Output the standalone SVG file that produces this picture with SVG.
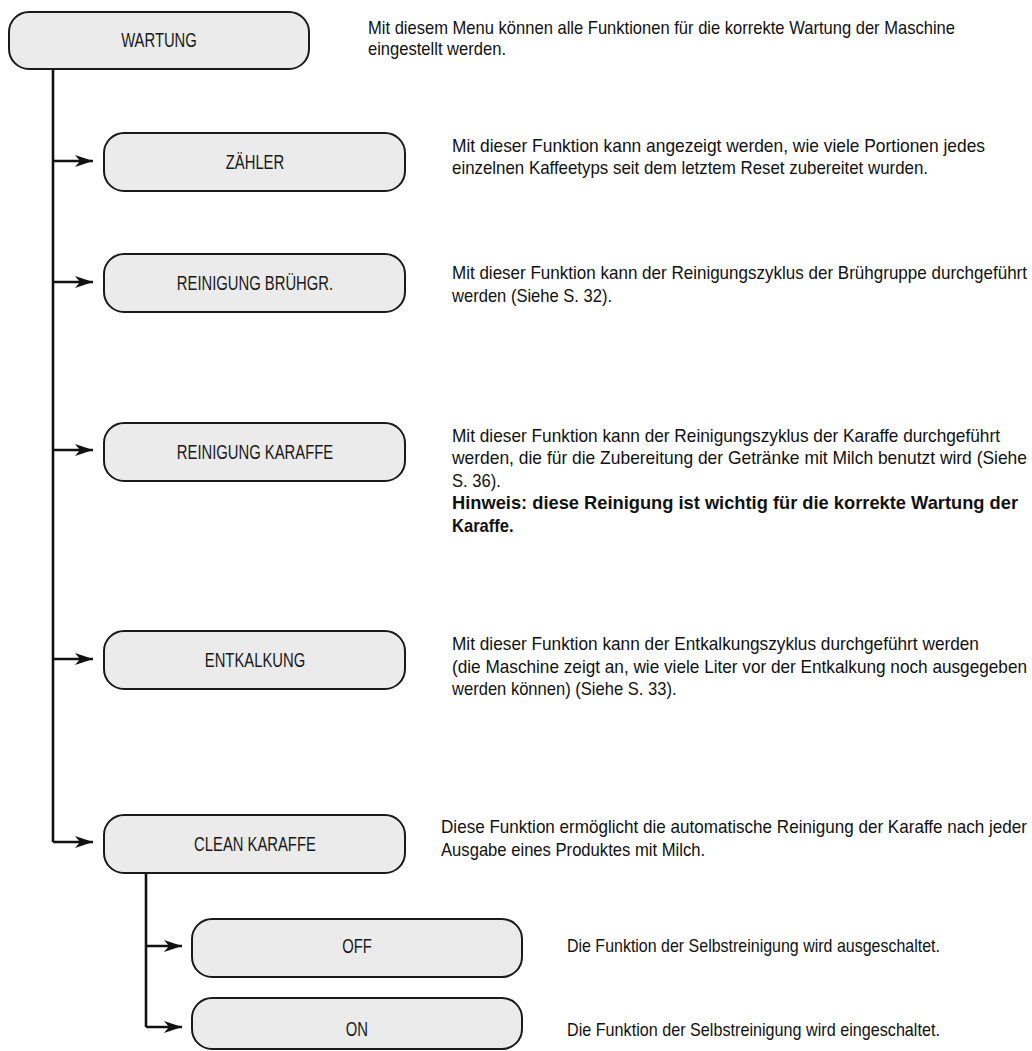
<svg xmlns="http://www.w3.org/2000/svg" width="1032" height="1051" viewBox="0 0 1032 1051">
<style>
.box{fill:#ebebeb;stroke:#1a1a1a;stroke-width:2}
.lbl{font-family:"Liberation Sans",Arial,sans-serif;font-size:19.5px;fill:#1a1a1a;text-anchor:middle}
.txt{font-family:"Liberation Sans",Arial,sans-serif;font-size:19px;fill:#111}
.b{font-weight:bold}
.ln{fill:none;stroke:#111;stroke-width:2.6}
</style>
<defs>
<marker id="ah" viewBox="0 0 18 12" refX="18" refY="6" markerWidth="18" markerHeight="12" markerUnits="userSpaceOnUse" orient="auto">
<path d="M0,0 L18,6 L0,12 L5,6 Z" fill="#111"/>
</marker>
</defs>
<rect width="1032" height="1051" fill="#fff"/>
<g id="connectors">
<path class="ln" d="M53,69 V842"/>
<path class="ln" d="M53,161 H93" marker-end="url(#ah)"/>
<path class="ln" d="M53,282 H93" marker-end="url(#ah)"/>
<path class="ln" d="M53,450 H93" marker-end="url(#ah)"/>
<path class="ln" d="M53,659 H93" marker-end="url(#ah)"/>
<path class="ln" d="M53,842 H93" marker-end="url(#ah)"/>
<path class="ln" d="M146,873 V1027"/>
<path class="ln" d="M146,946 H182" marker-end="url(#ah)"/>
<path class="ln" d="M146,1027 H182" marker-end="url(#ah)"/>
</g>
<g id="n-wartung">
<rect class="box" x="9" y="12" width="300" height="57" rx="20" ry="20"/>
<text class="lbl" x="209.2" y="47.5" transform="scale(0.76,1)">WARTUNG</text>
</g>
<g id="n-zaehler">
<rect class="box" x="104" y="133" width="301" height="58" rx="20" ry="20"/>
<text class="lbl" x="335.5" y="169.5" transform="scale(0.76,1)">ZÄHLER</text>
</g>
<g id="n-bruehgr">
<rect class="box" x="104" y="254" width="301" height="58" rx="20" ry="20"/>
<text class="lbl" x="335.5" y="290.5" transform="scale(0.76,1)">REINIGUNG BRÜHGR.</text>
</g>
<g id="n-karaffe">
<rect class="box" x="104" y="423" width="301" height="58" rx="20" ry="20"/>
<text class="lbl" x="335.5" y="459.5" transform="scale(0.76,1)">REINIGUNG KARAFFE</text>
</g>
<g id="n-entkalkung">
<rect class="box" x="104" y="631" width="301" height="58" rx="20" ry="20"/>
<text class="lbl" x="335.5" y="667.5" transform="scale(0.76,1)">ENTKALKUNG</text>
</g>
<g id="n-clean">
<rect class="box" x="104" y="815" width="301" height="58" rx="20" ry="20"/>
<text class="lbl" x="335.5" y="851.5" transform="scale(0.76,1)">CLEAN KARAFFE</text>
</g>
<g id="n-off">
<rect class="box" x="192" y="919" width="330" height="58" rx="20" ry="20"/>
<text class="lbl" x="469.7" y="953.5" transform="scale(0.76,1)">OFF</text>
</g>
<g id="n-on">
<rect class="box" x="192" y="998" width="330" height="51" rx="20" ry="20"/>
<text class="lbl" x="469.7" y="1036.5" transform="scale(0.76,1)">ON</text>
</g>
<g id="descriptions" transform="scale(0.8716,1)">
<text class="txt" x="422.2" y="34" textLength="673.5" lengthAdjust="spacingAndGlyphs">Mit diesem Menu können alle Funktionen für die korrekte Wartung der Maschine</text>
<text class="txt" x="422.2" y="55.5">eingestellt werden.</text>
<text class="txt" x="518.6" y="152" textLength="611.5" lengthAdjust="spacingAndGlyphs">Mit dieser Funktion kann angezeigt werden, wie viele Portionen jedes</text>
<text class="txt" x="518.6" y="174" textLength="546.1" lengthAdjust="spacingAndGlyphs">einzelnen Kaffeetyps seit dem letztem Reset zubereitet wurden.</text>
<text class="txt" x="518.6" y="279" textLength="659.7" lengthAdjust="spacingAndGlyphs">Mit dieser Funktion kann der Reinigungszyklus der Brühgruppe durchgeführt</text>
<text class="txt" x="518.6" y="302">werden (Siehe S. 32).</text>
<text class="txt" x="518.6" y="442" textLength="628.7" lengthAdjust="spacingAndGlyphs">Mit dieser Funktion kann der Reinigungszyklus der Karaffe durchgeführt</text>
<text class="txt" x="518.6" y="464.5" textLength="659.7" lengthAdjust="spacingAndGlyphs">werden, die für die Zubereitung der Getränke mit Milch benutzt wird (Siehe</text>
<text class="txt" x="518.6" y="487">S. 36).</text>
<text class="txt b" x="518.6" y="509.5" textLength="649.4" lengthAdjust="spacingAndGlyphs">Hinweis: diese Reinigung ist wichtig für die korrekte Wartung der</text>
<text class="txt b" x="518.6" y="532">Karaffe.</text>
<text class="txt" x="518.6" y="650.5" textLength="604.6" lengthAdjust="spacingAndGlyphs">Mit dieser Funktion kann der Entkalkungszyklus durchgeführt werden</text>
<text class="txt" x="518.6" y="673" textLength="659.7" lengthAdjust="spacingAndGlyphs">(die Maschine zeigt an, wie viele Liter vor der Entkalkung noch ausgegeben</text>
<text class="txt" x="518.6" y="695.5">werden können) (Siehe S. 33).</text>
<text class="txt" x="506" y="833.5" textLength="672.3" lengthAdjust="spacingAndGlyphs">Diese Funktion ermöglicht die automatische Reinigung der Karaffe nach jeder</text>
<text class="txt" x="506" y="856" textLength="302.9" lengthAdjust="spacingAndGlyphs">Ausgabe eines Produktes mit Milch.</text>
<text class="txt" x="650.5" y="952.5" textLength="427.9" lengthAdjust="spacingAndGlyphs">Die Funktion der Selbstreinigung wird ausgeschaltet.</text>
<text class="txt" x="650.5" y="1036.5" textLength="427.9" lengthAdjust="spacingAndGlyphs">Die Funktion der Selbstreinigung wird eingeschaltet.</text>
</g>
</svg>
